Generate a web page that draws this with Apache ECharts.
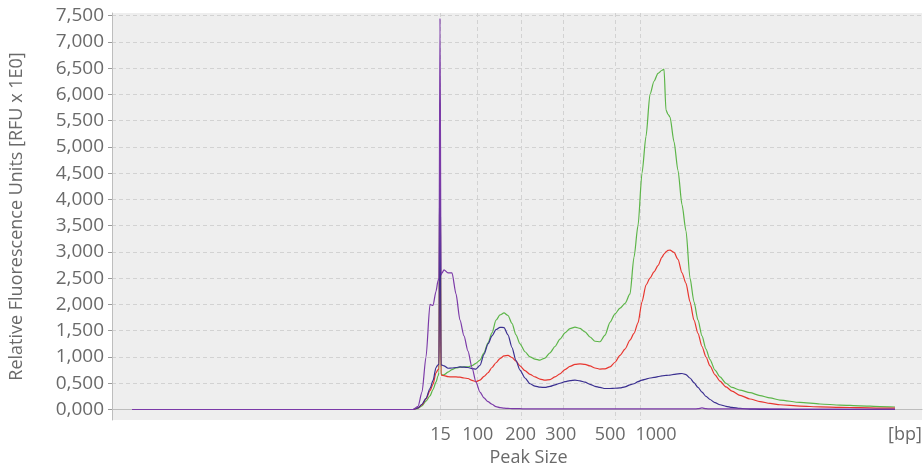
<!DOCTYPE html>
<html>
<head>
<meta charset="utf-8">
<script src="https://cdn.jsdelivr.net/npm/echarts@6/dist/echarts.min.js"></script>
<style>
  html, body { margin: 0; padding: 0; background: #ffffff; }
  #chart { width: 923px; height: 465px; }
</style>
</head>
<body>
<div id="chart"></div>
<script>
// Migration time (arbitrary units) of each sample point
var migrationTime = [10, 94, 150.5, 153, 155, 157, 159, 160.5, 162, 163, 163.5, 164, 164.5, 165, 166, 168, 170, 172, 174, 176, 178, 180, 182, 184, 186, 188, 190, 192, 194, 196, 198, 200, 202, 204, 206.5, 209, 211.5, 214, 216.5, 219, 221.5, 224, 226.5, 229, 231.5, 234, 236.5, 239, 241.5, 244, 246.5, 249, 251.5, 254, 256.5, 259, 261, 263, 265, 267, 269, 271, 273, 275, 276, 277, 278, 279, 281, 283, 285, 287, 289, 291, 293, 295, 297, 299, 301.5, 304, 307, 310, 314, 319, 324, 329, 334, 344, 354, 364, 374, 384, 391.5];

// Fluorescence of each sample (RFU)
var sampleGreen = [0, 0, 0, 20, 70, 160, 260, 380, 520, 640, 700, 5900, 680, 660, 660, 710, 760, 790, 805, 810, 810, 835, 880, 940, 1080, 1270, 1460, 1700, 1800, 1840, 1790, 1640, 1420, 1250, 1100, 1002, 960, 940, 980, 1080, 1200, 1340, 1460, 1540, 1570, 1545, 1478, 1380, 1300, 1290, 1415, 1660, 1820, 1930, 2020, 2200, 2900, 3500, 4500, 5200, 6000, 6250, 6400, 6460, 6480, 5700, 5620, 5570, 5100, 4550, 3900, 3400, 2500, 2050, 1700, 1400, 1150, 950, 750, 620, 500, 420, 370, 320, 265, 220, 180, 135, 105, 85, 70, 55, 48];
var sampleRed = [0, 0, 0, 30, 90, 200, 360, 480, 700, 760, 770, 5800, 660, 650, 645, 625, 620, 620, 615, 600, 590, 555, 530, 560, 630, 700, 800, 890, 970, 1020, 1030, 990, 920, 830, 740, 670, 620, 580, 560, 570, 620, 680, 760, 820, 860, 870, 860, 830, 790, 770, 775, 811, 900, 1030, 1150, 1320, 1450, 1650, 2050, 2370, 2500, 2620, 2740, 2900, 2960, 3000, 3030, 3034, 2990, 2860, 2600, 2400, 2050, 1700, 1450, 1200, 1000, 830, 660, 540, 430, 350, 270, 200, 150, 115, 90, 65, 50, 42, 35, 28, 25];
var sampleBlue = [0, 0, 0, 30, 100, 210, 400, 550, 800, 850, 860, 5850, 850, 845, 830, 785, 790, 800, 810, 805, 800, 780, 770, 843, 1050, 1250, 1400, 1520, 1565, 1560, 1420, 1180, 930, 750, 600, 490, 445, 425, 420, 440, 470, 500, 530, 550, 560, 545, 520, 480, 440, 420, 400, 400, 405, 410, 430, 470, 490, 530, 560, 580, 600, 610, 625, 640, 645, 650, 652, 653, 670, 680, 685, 665, 600, 510, 420, 330, 250, 190, 130, 90, 60, 40, 20, 8, 3, 0, 0, 0, 0, 0, 0, 0, 0];
var sampleMarker = [0, 0, 0, 60, 330, 1000, 2000, 1980, 2250, 2450, 2500, 7450, 2560, 2600, 2660, 2600, 2600, 2200, 1700, 1400, 1110, 800, 520, 330, 220, 150, 100, 55, 35, 25, 20, 18, 15, 15, 12, 12, 10, 10, 10, 10, 10, 10, 10, 10, 10, 10, 10, 10, 10, 10, 10, 10, 12, 12, 12, 12, 12, 12, 12, 12, 12, 12, 12, 12, 12, 12, 12, 12, 12, 12, 12, 12, 12, 12, 15, 30, 15, 12, 10, 10, 10, 10, 10, 10, 10, 10, 10, 8, 8, 8, 8, 8, 8];

// Ladder: migration time of each size marker and its label
var ladderTimes = [164, 182.75, 204.5, 225.6, 251.8, 264.3];
var labelTimes = [164.3, 182.9, 204.3, 224.4, 249.1, 272, 396.5];
var labelTexts = ['15', '100', '200', '300', '500', '1000', '[bp]'];

// Y ticks (RFU)
var yTicks = [0, 500, 1000, 1500, 2000, 2500, 3000, 3500, 4000, 4500, 5000, 5500, 6000, 6500, 7000, 7500];

var seriesNames = ['Sample A', 'Sample B', 'Sample C', 'Sample D'];
var seriesColors = ['#5cb548', '#e8362f', '#3a2f90', '#7b3aa8'];
var seriesValues = [sampleGreen, sampleRed, sampleBlue, sampleMarker];

function pairs(vals) {
  return migrationTime.map(function (t, i) { return [t, vals[i]]; });
}

function fmtY(v) {
  var th = Math.floor(v / 1000);
  var rest = String(Math.round(v % 1000));
  while (rest.length < 3) rest = '0' + rest;
  return th + ',' + rest;
}

var FONT = 'Open Sans';
var chart = echarts.init(document.getElementById('chart'), null, { renderer: 'canvas' });
chart.setOption({
  animation: false,
  backgroundColor: '#ffffff',
  grid: {
    left: 112, right: 1, top: 13, bottom: 45,
    containLabel: false,
    outerBoundsMode: 'none',
    show: true, backgroundColor: '#eeeeee', borderWidth: 0
  },
  xAxis: {
    type: 'value',
    min: 0,
    max: 405,
    name: 'Peak Size',
    nameLocation: 'middle',
    nameGap: 28,
    nameTextStyle: { fontFamily: FONT, fontSize: 18, color: '#6a6a6a', padding: [0, 0, 0, 23] },
    axisLine: { show: true, lineStyle: { color: '#bdbdbd', width: 1 } },
    axisTick: { show: false, customValues: ladderTimes },
    axisLabel: {
      customValues: labelTimes,
      margin: 6,
      fontFamily: FONT,
      fontSize: 18,
      color: '#6a6a6a',
      formatter: function (v) {
        var i = labelTimes.indexOf(v);
        return i >= 0 ? labelTexts[i] : '';
      }
    },
    splitLine: { show: true, lineStyle: { color: '#d2d2d2', type: [4, 3], width: 1 } }
  },
  yAxis: {
    type: 'value',
    min: -200,
    max: 7550,
    name: 'Relative Fluorescence Units [RFU x 1E0]',
    nameLocation: 'middle',
    nameGap: 86,
    nameTextStyle: { fontFamily: FONT, fontSize: 18, color: '#6a6a6a' },
    axisLine: { show: true, lineStyle: { color: '#bdbdbd', width: 1 } },
    axisTick: { show: true, length: 4, customValues: yTicks, lineStyle: { color: '#9a9a9a' } },
    axisLabel: {
      customValues: yTicks,
      margin: 8,
      fontFamily: FONT,
      fontSize: 19,
      color: '#6a6a6a',
      formatter: fmtY
    },
    splitLine: { show: true, lineStyle: { color: '#d2d2d2', type: [4, 3], width: 1 } }
  },
  series: seriesValues.map(function (vals, i) {
    return {
      name: seriesNames[i],
      type: 'line',
      data: pairs(vals),
      showSymbol: false,
      smooth: 0.25,
      smoothMonotone: 'x',
      lineStyle: { color: seriesColors[i], width: 1.2 },
      itemStyle: { color: seriesColors[i] },
      z: 2 + i
    };
  })
});
</script>
</body>
</html>
